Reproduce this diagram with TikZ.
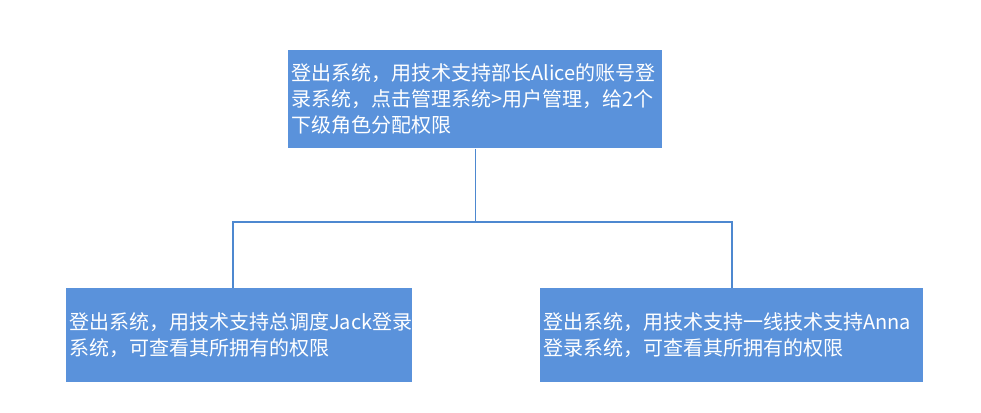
\documentclass[tikz,border=0pt]{standalone}
\usepackage{fontspec}
\setmainfont{Noto Sans CJK SC}
\definecolor{boxblue}{HTML}{5A92DB}
\definecolor{lineblue}{HTML}{4D88D0}
\tikzset{
  rolebox/.style={fill=boxblue, text=white, align=left, anchor=north west,
    inner xsep=2.25pt, inner ysep=0pt,
    font=\fontsize{15pt}{19.5pt}\selectfont},
  thinlink/.style={draw=lineblue, line width=0.75pt},
  thicklink/.style={draw=lineblue, line width=2pt}
}
\begin{document}
\begin{tikzpicture}[x=0.75pt,y=-0.75pt]
\useasboundingbox (0,0) rectangle (981,412);

\node[rolebox, minimum width=280.5pt, minimum height=73.5pt, text width=276pt] (chief) at (288,50)
  {登出系统，用技术支持部长Alice的账号登\\录系统，点击管理系统>用户管理，给2个\\下级角色分配权限};

\node[rolebox, minimum width=259.5pt, minimum height=70.5pt, text width=255pt] (jack) at (66,288)
  {登出系统，用技术支持总调度Jack登录\\系统，可查看其所拥有的权限};

\node[rolebox, minimum width=287.25pt, minimum height=70.5pt, text width=282.75pt] (anna) at (540,288)
  {登出系统，用技术支持一线技术支持Anna\\登录系统，可查看其所拥有的权限};

\coordinate (split) at (475,222);
\coordinate (jl) at (233,222);
\coordinate (jr) at (732,222);

\draw[thinlink] (chief.south -| split) -- (split);
\draw[thicklink] (jl |- jack.north) -- (jl) -- (jr) -- (jr |- anna.north);
\end{tikzpicture}
\end{document}
